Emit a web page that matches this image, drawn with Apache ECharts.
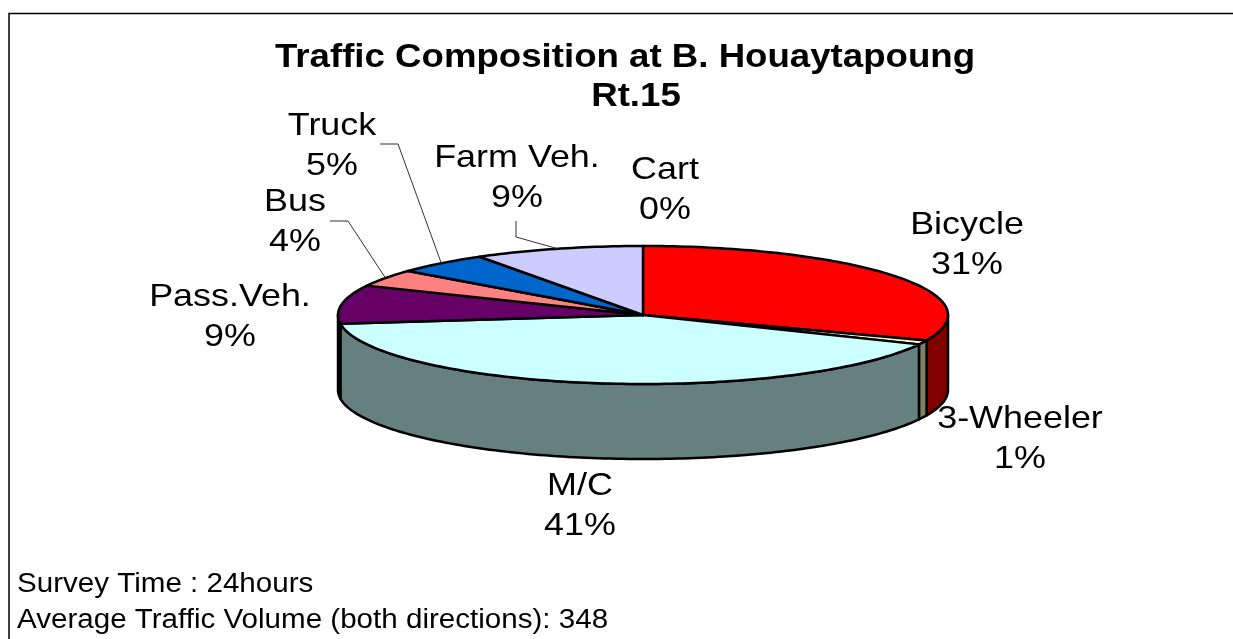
<!DOCTYPE html>
<html><head><meta charset="utf-8">
<style>html,body{margin:0;padding:0;background:#fff}#c{width:1233px;height:639px}</style>
<script src="https://cdn.jsdelivr.net/npm/echarts@6/dist/echarts.min.js"></script>
</head><body><div id="c"></div>
<script>
const categories = ['Bicycle','3-Wheeler','M/C','Pass.Veh.','Bus','Truck','Farm Veh.','Cart'];
const percents   = [31,1,41,9,4,5,9,0];
const titleLines = ['Traffic Composition at B. Houaytapoung','Rt.15'];
const notes      = ['Survey Time : 24hours','Average Traffic Volume (both directions): 348'];

// styling and layout, separate from the data
const topColors  = ['#FF0000','#FFFFCC','#CCFFFF','#660066','#FF8080','#0066CC','#CCCCFF','#FFFFFF'];
const sideColors = ['#800000','#808066','#668080','#330033','#804040','#003366','#666680','#808080'];
const labelCenters = [[967,245],[1020,439],[580,506],[230,317],[295,222],[332,146],[517,178],[665,190]];
const leaderBends = {4:[[330,221],[348,221]],5:[[380,144],[398,144]],6:[[516,221],[516,237]]};
const titleCenters = [[625,58],[636,97]];
const noteStarts = [[17,585],[17,621]];
const cx=643, cy=315, rx=305, ry=69, depth=75;
const labelStretch=1.14, titleStretch=1.11, noteStretch=1.095;

const total = percents.reduce((a,b)=>a+b,0);
const starts=[]; percents.reduce((s,v,i)=>(starts[i]=s,s+v),0);
const ang = v => echarts.number.linearMap(v,[0,total],[0,2*Math.PI]);
const pt = (a,dy=0)=>[cx+rx*Math.sin(a),cy-ry*Math.cos(a)+dy];
function arc(a0,a1,dy,rev){const n=Math.max(2,Math.ceil((a1-a0)/0.02));const p=[];
  for(let i=0;i<=n;i++)p.push(pt(a0+(a1-a0)*i/n,dy));return rev?p.reverse():p;}

function renderItem(params,api){
  const i=params.dataIndex, v=api.value(0), kids=[];
  const a0=ang(starts[i]), a1=ang(starts[i]+v);
  const f0=Math.max(a0,Math.PI/2), f1=Math.min(a1,1.5*Math.PI);
  if(v>0&&f1>f0){
    kids.push({type:'polygon',shape:{points:arc(f0,f1,0).concat(arc(f0,f1,depth,true))},
      style:{fill:sideColors[i],stroke:'#000',lineWidth:2.5,lineJoin:'round'}});
  }
  if(v>0){
    kids.push({type:'polygon',shape:{points:[[cx,cy]].concat(arc(a0,a1,0))},
      style:{fill:topColors[i],stroke:'#000',lineWidth:2.5,lineJoin:'round'}});
  }
  if(leaderBends[i]){
    kids.push({type:'polyline',shape:{points:leaderBends[i].concat([pt(ang(starts[i]+v/2))])},
      style:{fill:null,stroke:'#333',lineWidth:1}});
  }
  kids.push({type:'text',z2:10,x:labelCenters[i][0],y:labelCenters[i][1],scaleX:labelStretch,
    style:{x:0,y:0,text:categories[i]+'\n'+v+'%',align:'center',verticalAlign:'middle',
    font:'31.5px "Liberation Sans"',lineHeight:40,fill:'#000'}});
  return {type:'group',children:kids};
}

const chart=echarts.init(document.getElementById('c'),null,{renderer:'canvas'});
chart.setOption({
  animation:false,backgroundColor:'#fff',
  graphic:[
    {type:'polyline',shape:{points:[[9,639],[9,13.5],[1233,13.5]]},style:{fill:null,stroke:'#000',lineWidth:1.5}},
    ...titleLines.map((t,i)=>({type:'text',x:titleCenters[i][0],y:titleCenters[i][1],scaleX:titleStretch,
      style:{x:0,y:0,text:t,align:'center',verticalAlign:'middle',font:'bold 33px "Liberation Sans"',fill:'#000'}})),
    ...notes.map((t,i)=>({type:'text',x:noteStarts[i][0],y:noteStarts[i][1],scaleX:noteStretch,
      style:{x:0,y:0,text:t,align:'left',verticalAlign:'middle',font:'27px "Liberation Sans"',fill:'#000'}}))
  ],
  series:[{type:'custom',coordinateSystem:'none',renderItem,
    data:percents.map((v,i)=>({name:categories[i],value:[v]}))}]
});
</script></body></html>
